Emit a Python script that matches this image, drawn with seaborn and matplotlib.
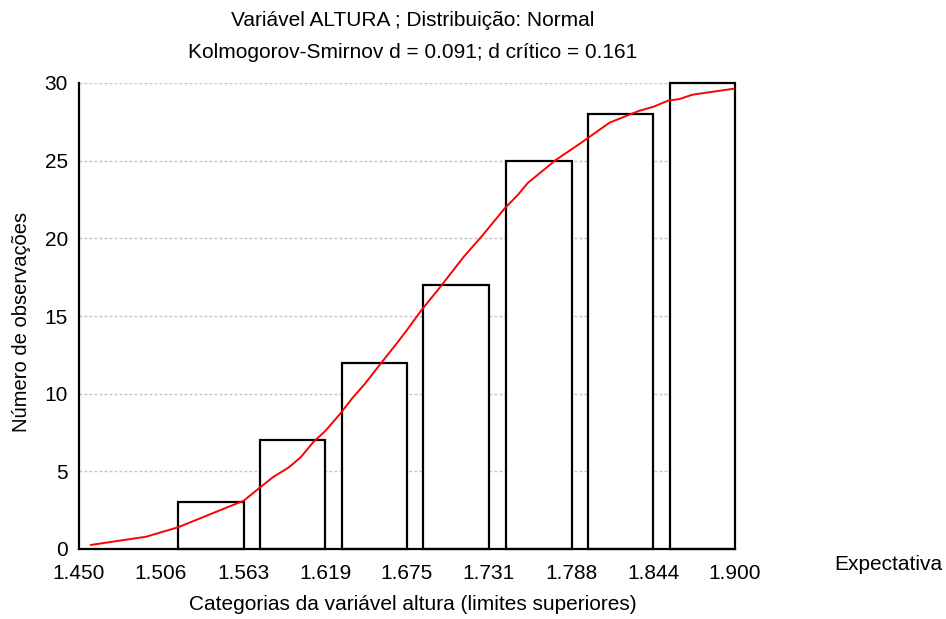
import seaborn as sns
import matplotlib.pyplot as plt
import pandas as pd

# cumulative observed counts per class (upper limits)
upper_limits = [1.563, 1.619, 1.675, 1.731, 1.788, 1.844, 1.900]
counts = [3, 7, 12, 17, 25, 28, 30]

tick_labels = ["1.450", "1.506", "1.563", "1.619", "1.675", "1.731", "1.788", "1.844", "1.900"]

# expected (normal) cumulative curve
curve_x = [1.458, 1.496, 1.518, 1.554, 1.563, 1.574, 1.583, 1.594, 1.602, 1.611,
           1.619, 1.629, 1.638, 1.646, 1.658, 1.668, 1.675, 1.685, 1.698, 1.714,
           1.727, 1.742, 1.751, 1.758, 1.766, 1.777, 1.794, 1.814, 1.834, 1.844,
           1.854, 1.862, 1.871, 1.899]
curve_y = [0.26, 0.79, 1.40, 2.77, 3.11, 3.95, 4.62, 5.26, 5.90, 6.91,
           7.60, 8.69, 9.77, 10.62, 12.06, 13.24, 14.10, 15.39, 16.89, 18.82,
           20.21, 21.93, 22.79, 23.58, 24.19, 25.04, 26.12, 27.45, 28.20, 28.47,
           28.86, 28.97, 29.25, 29.63]

sns.set_theme(style="white")
plt.rcParams["font.family"] = ["Liberation Sans", "DejaVu Sans"]
plt.rcParams["text.color"] = "black"

bin_w = upper_limits[1] - upper_limits[0]
bars = pd.DataFrame({"pos": [u - 0.4 * bin_w for u in upper_limits], "n": counts})
curve = pd.DataFrame({"x": curve_x, "y": curve_y})

fig = plt.figure(figsize=(9.46, 6.19), dpi=100)
ax = fig.add_axes([79 / 946, 1 - 549 / 619, (735 - 79) / 946, (549 - 83) / 619])

sns.barplot(data=bars, x="pos", y="n", native_scale=True, width=0.8,
            color="white", edgecolor="black", linewidth=1.6, errorbar=None, ax=ax)
for p in ax.patches:
    p.set_clip_on(False)
sns.lineplot(data=curve, x="x", y="y", color="red", linewidth=1.4, sort=False, ax=ax)

ax.set_xlim(1.450, 1.900)
ax.set_ylim(0, 30)
ax.set_xticks([float(t) for t in tick_labels])
ax.set_xticklabels(tick_labels)
ax.set_yticks(range(0, 31, 5))
ax.set_xlabel("")
ax.set_ylabel("")

ax.set_axisbelow(True)
ax.yaxis.grid(True, linestyle=(0, (2.0, 1.6)), color="#c4c4c4", linewidth=1)
ax.xaxis.grid(False)

for s in ["top", "right"]:
    ax.spines[s].set_visible(False)
for s in ["left", "bottom"]:
    ax.spines[s].set_color("black")
    ax.spines[s].set_linewidth(1.6)

ax.tick_params(axis="both", direction="in", length=3, width=1, color="black",
               labelsize=15, labelcolor="black")
ax.tick_params(axis="y", pad=8)
ax.tick_params(axis="x", pad=11)

fig.text(413 / 946, 1 - 20 / 619, "Variável ALTURA ; Distribuição: Normal",
         ha="center", va="center", fontsize=15)
fig.text(413 / 946, 1 - 52 / 619, "Kolmogorov-Smirnov d = 0.091; d crítico = 0.161",
         ha="center", va="center", fontsize=15)
fig.text(413 / 946, 1 - 605 / 619, "Categorias da variável altura (limites superiores)",
         ha="center", va="center", fontsize=15)
fig.text(22 / 946, 1 - 322 / 619, "Número de observações", rotation=90,
         ha="center", va="center", fontsize=14.5)
fig.text(888 / 946, 1 - 565 / 619, "Expectativa", ha="center", va="center", fontsize=15)

fig.savefig("out.png", dpi=100)
